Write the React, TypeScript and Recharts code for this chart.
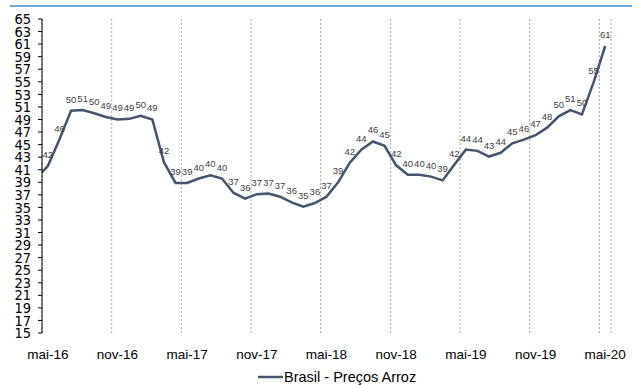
import React from 'react';
import { LineChart, Line, XAxis, YAxis, CartesianGrid, LabelList, Legend } from 'recharts';

// Monthly rice price index (one leading month sits just outside the visible window)
const months = [
  'abr-16', 'mai-16', 'jun-16', 'jul-16', 'ago-16', 'set-16', 'out-16', 'nov-16', 'dez-16',
  'jan-17', 'fev-17', 'mar-17', 'abr-17', 'mai-17', 'jun-17', 'jul-17', 'ago-17', 'set-17', 'out-17', 'nov-17', 'dez-17',
  'jan-18', 'fev-18', 'mar-18', 'abr-18', 'mai-18', 'jun-18', 'jul-18', 'ago-18', 'set-18', 'out-18', 'nov-18', 'dez-18',
  'jan-19', 'fev-19', 'mar-19', 'abr-19', 'mai-19', 'jun-19', 'jul-19', 'ago-19', 'set-19', 'out-19', 'nov-19', 'dez-19',
  'jan-20', 'fev-20', 'mar-20', 'abr-20', 'mai-20',
];

const prices = [
  39.6, 41.6, 45.8, 50.4, 50.5, 50.0, 49.4, 49.0, 49.1,
  49.6, 49.0, 42.2, 38.9, 38.9, 39.6, 40.1, 39.6, 37.3, 36.4, 37.1, 37.2,
  36.7, 35.8, 35.1, 35.7, 36.7, 39.0, 42.1, 44.2, 45.5, 44.8, 41.7, 40.2,
  40.2, 39.9, 39.3, 41.8, 44.2, 44.0, 43.1, 43.7, 45.2, 45.8, 46.5, 47.7,
  49.5, 50.5, 49.8, 54.9, 60.7,
];

const tickMonths = ['mai-16', 'nov-16', 'mai-17', 'nov-17', 'mai-18', 'nov-18', 'mai-19', 'nov-19', 'mai-20'];

const yTicks = [15, 17, 19, 21, 23, 25, 27, 29, 31, 33, 35, 37, 39, 41, 43, 45, 47, 49, 51, 53, 55, 57, 59, 61, 63, 65];

const SERIES_NAME = 'Brasil - Preços Arroz';
const LINE_COLOR = '#44546A';
const PLOT_LEFT = 42;

const firstIdx = months.indexOf(tickMonths[0]);
// each month occupies one unit; points sit in the middle of their month slot
const data = months.map((m, i) => ({ month: m, pos: i - firstIdx + 0.5, price: prices[i] }));
const xMax = months.length - firstIdx;
const labelTicks = tickMonths.map((m) => months.indexOf(m) - firstIdx + 0.5);
const gridTicks = labelTicks.map((t) => t - 0.5);

const PointLabel = (props: any) => {
  const x = props.x ?? props.viewBox?.x;
  const y = props.y ?? props.viewBox?.y;
  if (x == null || x < PLOT_LEFT) return null;
  return (
    <text x={x} y={y - 8} textAnchor="middle" fontSize={9.5} fill="#404040" fontFamily="'Liberation Sans', Arial, sans-serif">
      {Math.round(props.value)}
    </text>
  );
};

const LegendContent = () => (
  <div style={{ position: 'relative', height: 20, fontFamily: "'Liberation Sans', Arial, sans-serif", fontSize: 14.5, color: '#000' }}>
    <div style={{ position: 'absolute', left: 258, top: 2, display: 'flex', alignItems: 'center', height: 20 }}>
      <svg width={25} height={4} style={{ display: 'block' }}>
        <line x1={0} y1={2} x2={25} y2={2} stroke={LINE_COLOR} strokeWidth={2.5} />
      </svg>
      <span style={{ marginLeft: 1, whiteSpace: 'nowrap' }}>{SERIES_NAME}</span>
    </div>
  </div>
);

export default function App() {
  return (
    <div style={{ position: 'fixed', left: 0, top: 0, width: 632, height: 385, background: '#fff' }}>
      <div style={{ position: 'absolute', left: 10, top: 5, width: 622, height: 2, background: '#6FA8DC' }} />
      <LineChart
        width={632}
        height={385}
        data={data}
        margin={{ top: 19, right: 21, bottom: 2, left: 0 }}
      >
        <CartesianGrid xAxisId="grid" horizontal={false} vertical stroke="#A6A6A6" strokeDasharray="2 2" />
        <XAxis
          xAxisId="grid"
          dataKey="pos"
          type="number"
          domain={[0, xMax]}
          allowDataOverflow
          ticks={gridTicks}
          interval={0}
          height={0}
          tickSize={4}
          tickFormatter={() => ''}
          axisLine={{ stroke: '#000' }}
          tickLine={{ stroke: '#000' }}
        />
        <XAxis
          xAxisId="lbl"
          dataKey="pos"
          type="number"
          domain={[0, xMax]}
          allowDataOverflow
          ticks={labelTicks}
          interval={0}
          height={30}
          axisLine={false}
          tickLine={false}
          tickMargin={10}
          tickFormatter={(v: number) => months[Math.round(v - 0.5) + firstIdx]}
          tick={{ fill: '#000', fontSize: 13.5, fontFamily: "'Liberation Sans', Arial, sans-serif" }}
        />
        <YAxis
          domain={[15, 65]}
          ticks={yTicks}
          interval={0}
          width={42}
          tickSize={4}
          tickMargin={7}
          axisLine={{ stroke: '#000' }}
          tickLine={{ stroke: '#000' }}
          tick={{ fill: '#000', fontSize: 14.5, fontFamily: "'Liberation Sans Narrow', 'DejaVu Sans Condensed', sans-serif" }}
        />
        <Legend verticalAlign="bottom" height={20} content={LegendContent} wrapperStyle={{ left: 0, width: 632, bottom: 0 }} />
        <Line
          xAxisId="grid"
          dataKey="price"
          name={SERIES_NAME}
          stroke={LINE_COLOR}
          strokeWidth={2.5}
          dot={false}
          isAnimationActive={false}
        >
          <LabelList dataKey="price" content={PointLabel} />
        </Line>
      </LineChart>
    </div>
  );
}
